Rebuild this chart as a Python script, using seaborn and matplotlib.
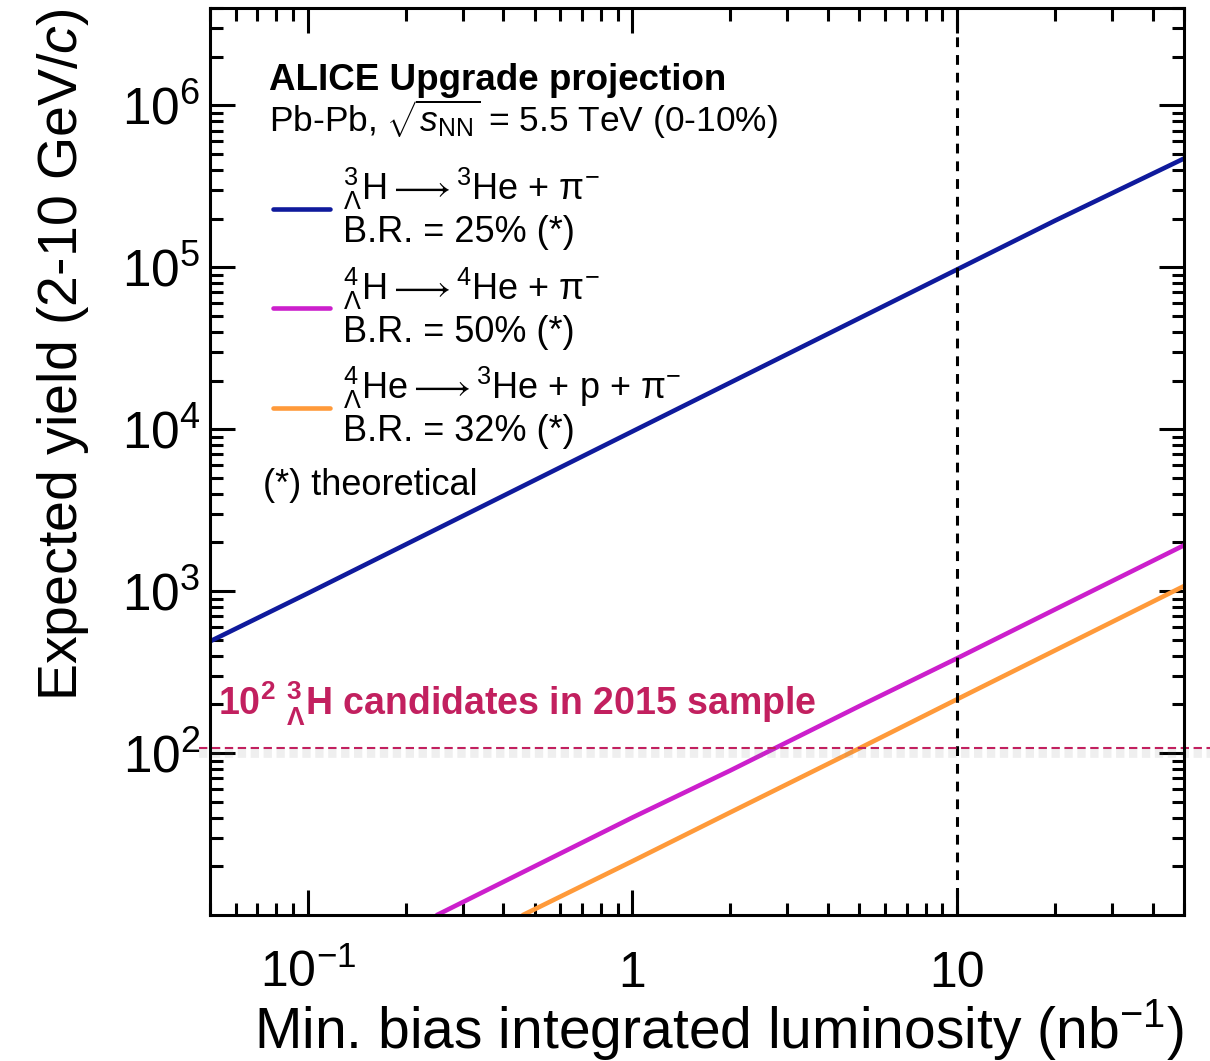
import matplotlib
matplotlib.use("Agg")
import matplotlib.pyplot as plt
import matplotlib.patheffects as pe
import matplotlib.transforms as mtransforms
from matplotlib.ticker import FixedLocator, FixedFormatter, NullFormatter
import seaborn as sns
import pandas as pd

# luminosity (nb^-1) and expected yield
lumi_h3l = [0.05, 0.1, 0.2, 0.5, 1, 2, 5, 10, 20, 50]
yield_h3l = [490, 970, 1940, 4850, 9700, 19400, 48500, 97000, 194000, 470000]

lumi_h4l = [0.25, 0.5, 1, 2, 5, 10, 20, 50]
yield_h4l = [10, 20, 40, 78, 195, 385, 770, 1920]

lumi_he4l = [0.46, 1, 2, 5, 10, 20, 50]
yield_he4l = [10, 21.5, 43, 107, 215, 430, 1075]

decay_labels = [
    "${}^{3}_{\\Lambda}H \\longrightarrow {}^{3}He$ + \u03c0$^{-}$\nB.R. = 25% (*)",
    "${}^{4}_{\\Lambda}H \\longrightarrow {}^{4}He$ + \u03c0$^{-}$\nB.R. = 50% (*)",
    "${}^{4}_{\\Lambda}He \\longrightarrow {}^{3}He$ + p + \u03c0$^{-}$\nB.R. = 32% (*)",
]
decay_colors = ["#0f1a9c", "#cc1fcc", "#ff9a3a"]

sample_2015 = 107      # 10^2 candidates line
lumi_marker = 10       # vertical dashed line (nb^-1)

xtick_vals = [0.1, 1, 10]
xtick_labels = ["$10^{-1}$", "1", "10"]
ytick_vals = [1e2, 1e3, 1e4, 1e5, 1e6]
ytick_labels = ["$10^{2}$", "$10^{3}$", "$10^{4}$", "$10^{5}$", "$10^{6}$"]

# long table for seaborn
df = pd.concat([
    pd.DataFrame({"lumi": lumi_h3l, "yield": yield_h3l, "decay": decay_labels[0]}),
    pd.DataFrame({"lumi": lumi_h4l, "yield": yield_h4l, "decay": decay_labels[1]}),
    pd.DataFrame({"lumi": lumi_he4l, "yield": yield_he4l, "decay": decay_labels[2]}),
], ignore_index=True)

sns.set_theme(style="ticks", rc={
    "axes.edgecolor": "black", "xtick.color": "black", "ytick.color": "black",
    "text.color": "black", "axes.labelcolor": "black",
})
plt.rcParams["font.family"] = ["Liberation Sans", "DejaVu Sans"]
plt.rcParams["mathtext.fontset"] = "custom"
plt.rcParams["mathtext.rm"] = "Liberation Sans"
plt.rcParams["mathtext.it"] = "Liberation Sans:italic"
plt.rcParams["mathtext.bf"] = "Liberation Sans:bold"
plt.rcParams["mathtext.default"] = "regular"
plt.rcParams["mathtext.fallback"] = "cm"

fig = plt.figure(figsize=(12.1, 10.61), dpi=100)
ax = fig.add_axes([0.1736, 0.1376, 0.8049, 0.8549])
ax.set_xscale("log")
ax.set_yscale("log")

sns.lineplot(data=df, x="lumi", y="yield", hue="decay", hue_order=decay_labels,
             palette=dict(zip(decay_labels, decay_colors)), linewidth=3.3,
             estimator=None, ax=ax)

ax.set_xlim(0.05, 50)
ax.set_ylim(10, 4e6)

# reference lines
ax.axvline(lumi_marker, color="black", linewidth=2.2, dashes=(3.2, 2.6))
trans = mtransforms.blended_transform_factory(ax.transAxes, ax.transData)
ax.plot([-0.011, 1.03], [sample_2015, sample_2015], transform=trans, clip_on=False,
        color="#c2205f", linewidth=1.5, dashes=(4, 2.2),
        path_effects=[pe.SimpleLineShadow(offset=(0, -3), shadow_color="gray", alpha=0.12, linewidth=7),
                      pe.Normal()])

# ticks
ax.xaxis.set_major_locator(FixedLocator(xtick_vals))
ax.xaxis.set_major_formatter(FixedFormatter(xtick_labels))
ax.xaxis.set_minor_formatter(NullFormatter())
ax.yaxis.set_major_locator(FixedLocator(ytick_vals))
ax.yaxis.set_major_formatter(FixedFormatter(ytick_labels))
ax.yaxis.set_minor_formatter(NullFormatter())
ax.tick_params(which="both", direction="in", top=True, right=True, width=2.2)
ax.tick_params(which="major", length=18)
ax.tick_params(which="minor", length=9)
ax.tick_params(axis="x", which="major", labelsize=36, pad=52)
ax.tick_params(axis="y", which="major", labelsize=37, pad=7)
plt.setp(ax.get_xticklabels(), va="baseline")
for sp in ax.spines.values():
    sp.set_linewidth(2.2)

ax.set_xlabel("Min. bias integrated luminosity (nb$^{-1}$)", fontsize=41, loc="right", labelpad=0)
ax.set_ylabel("Expected yield (2-10 GeV/$\\mathit{c}$)", fontsize=40, loc="top", labelpad=22)

# legend + annotations
handles, labels = ax.get_legend_handles_labels()
leg = ax.legend(handles, labels, loc="upper left", bbox_to_anchor=(0.0647, 0.826),
                frameon=False, fontsize=26, handlelength=1.58, handletextpad=0.36,
                borderpad=0, borderaxespad=0, labelspacing=0.42)
for t in leg.get_texts():
    t.set_linespacing(1.12)

ax.text(0.0606, 0.9096, "ALICE Upgrade projection", transform=ax.transAxes,
        fontsize=26.5, fontweight="bold", va="baseline")
ax.text(0.0606, 0.8633, "Pb-Pb, $\\sqrt{\\mathit{s}_{\\mathrm{NN}}}$ = 5.5 TeV (0-10%)",
        transform=ax.transAxes, fontsize=25.5, va="baseline")
ax.text(0.0544, 0.4631, "(*) theoretical", transform=ax.transAxes, fontsize=26, va="baseline")
ax.text(0.0082, 0.2205,
        "10$^{\\mathbf{2}}$ ${}^{\\mathbf{3}}_{\\mathbf{\\Lambda}}$H candidates in 2015 sample",
        transform=ax.transAxes, fontsize=27, fontweight="bold", color="#c2205f", va="baseline")

fig.savefig("out.png", dpi=100)
